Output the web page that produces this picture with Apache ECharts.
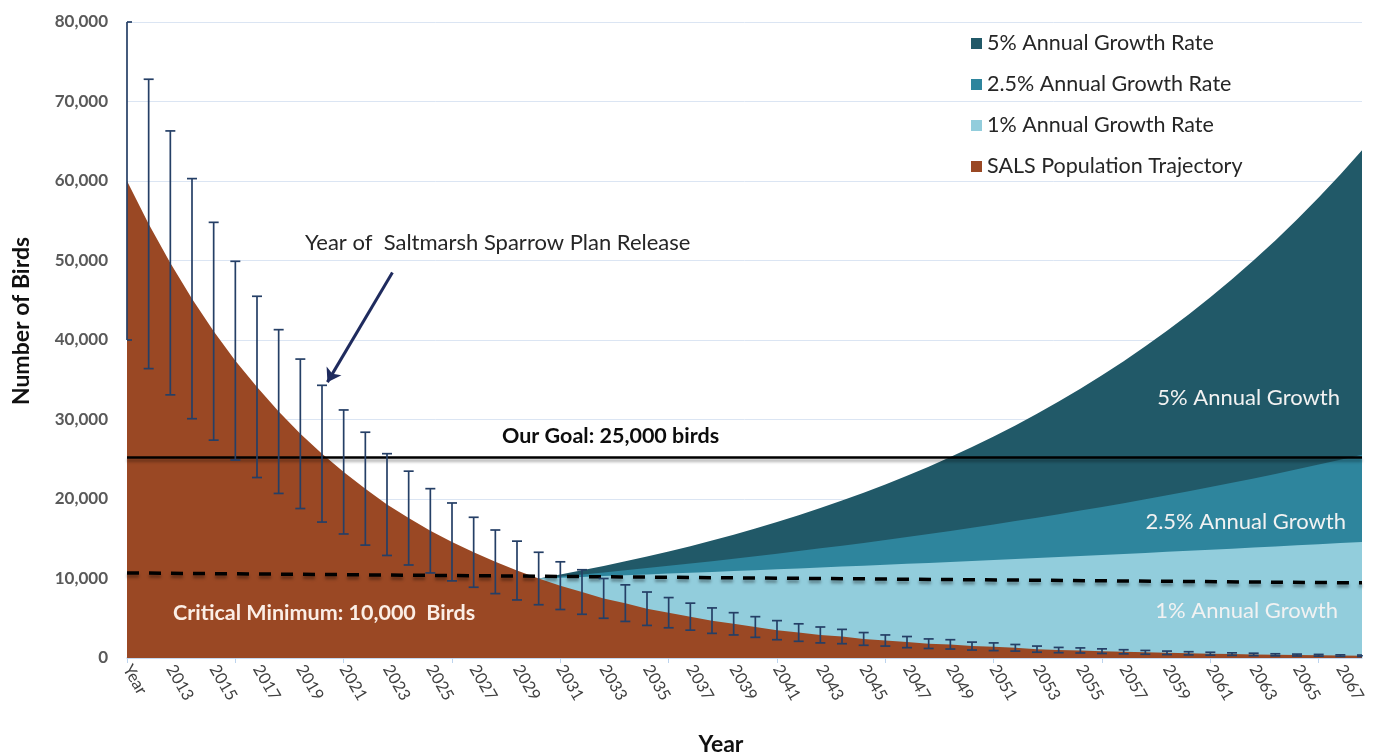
<!DOCTYPE html>
<html><head><meta charset="utf-8">
<script src="https://cdn.jsdelivr.net/npm/echarts@6/dist/echarts.min.js"></script>
<style>html,body{margin:0;padding:0;background:#fff}#c{width:1374px;height:754px}</style>
</head><body><div id="c"></div>
<script>
// ---- data ----
const years = ['Year','2012','2013','2014','2015','2016','2017','2018','2019','2020','2021','2022','2023','2024','2025','2026','2027','2028','2029','2030','2031','2032','2033','2034','2035','2036','2037','2038','2039','2040','2041','2042','2043','2044','2045','2046','2047','2048','2049','2050','2051','2052','2053','2054','2055','2056','2057','2058','2059','2060','2061','2062','2063','2064','2065','2066','2067','2068'];
const salsTrajectory = [60000,54600,49700,45200,41100,37400,34100,31000,28200,25700,23400,21300,19300,17600,16000,14600,13300,12100,11000,10000,9100,8300,7500,6900,6200,5700,5200,4700,4300,3900,3500,3200,2900,2700,2400,2200,2000,1800,1700,1500,1400,1300,1100,1000,950,860,780,710,650,590,540,490,450,400,370,340,300,280];
const errUpper = [80000,72800,66300,60300,54800,49900,45500,41300,37600,34300,31200,28400,25700,23500,21300,19500,17700,16100,14700,13300,12100,11100,10000,9200,8300,7600,6900,6300,5700,5200,4700,4300,3900,3600,3200,2900,2700,2400,2300,2000,1900,1700,1500,1330,1270,1150,1040,950,870,790,720,650,600,530,490,450,400,370];
const errLower = [40000,36400,33100,30100,27400,24900,22700,20700,18800,17100,15600,14200,12900,11700,10700,9700,8900,8100,7300,6700,6100,5500,5000,4600,4100,3800,3500,3100,2900,2600,2300,2100,1900,1800,1600,1500,1300,1200,1130,1000,930,870,730,670,630,570,520,470,430,390,360,330,300,270,250,230,200,190];
const nulls19 = [null,null,null,null,null,null,null,null,null,null,null,null,null,null,null,null,null,null,null];
const growth1 = nulls19.concat([10000,10100,10200,10300,10410,10510,10620,10720,10830,10940,11050,11160,11270,11380,11500,11610,11730,11840,11960,12080,12200,12320,12450,12570,12700,12820,12950,13080,13210,13350,13480,13610,13750,13890,14030,14170,14310,14450,14600]);
const growth25 = nulls19.concat([10000,10250,10510,10770,11040,11310,11600,11890,12180,12490,12800,13120,13450,13790,14130,14480,14850,15220,15600,15990,16390,16800,17220,17650,18090,18540,19000,19480,19970,20460,20980,21500,22040,22590,23150,23730,24330,24930,25560]);
const growth5 = nulls19.concat([10000,10500,11030,11580,12160,12760,13400,14070,14780,15510,16290,17100,17960,18860,19800,20790,21830,22920,24070,25270,26530,27860,29250,30720,32250,33860,35560,37340,39200,41160,43220,45380,47650,50030,52530,55160,57920,60810,63860]);
const seriesNames = ['5% Annual Growth Rate','2.5% Annual Growth Rate','1% Annual Growth Rate','SALS Population Trajectory'];
const goalValue = 25300;
const criticalLine = [[0, 10700], [57, 9450]];
const arrowLine = [[12.25, 48500], [9.25, 34700]];

const FONT = 'Lato, "Open Sans", sans-serif';
const chart = echarts.init(document.getElementById('c'), null, {renderer: 'canvas'});

function area(name, data, color, z) {
  return {
    type: 'line', name, data, z,
    showSymbol: false, symbol: 'none', silent: true,
    lineStyle: {width: 0, color},
    itemStyle: {color},
    areaStyle: {color, opacity: 1}
  };
}

const shadow = {shadowBlur: 3, shadowOffsetY: 3, shadowColor: 'rgba(0,0,0,0.35)'};

chart.setOption({
  animation: false,
  backgroundColor: '#fff',
  textStyle: {fontFamily: FONT},
  grid: {left: 127, right: 12, top: 22, bottom: 96, containLabel: false, outerBoundsMode: 'none'},
  legend: {
    orient: 'vertical', left: 966, top: 26,
    data: seriesNames,
    icon: 'rect', itemWidth: 11, itemHeight: 11, itemGap: 16,
    textStyle: {fontSize: 21.5, color: '#262626', fontFamily: FONT, lineHeight: 25},
    selectedMode: false
  },
  xAxis: [{
    type: 'category', data: years, boundaryGap: false,
    axisLine: {show: true, lineStyle: {color: '#bdd4ee', width: 1.5}},
    axisTick: {show: true, interval: 4, length: 5, lineStyle: {color: '#bdd4ee'}},
    axisLabel: {interval: 1, rotate: -60, fontSize: 16.5, color: '#404040', margin: 8, fontFamily: FONT},
    splitLine: {show: false},
    name: 'Year', nameLocation: 'middle', nameGap: 75,
    nameTextStyle: {fontSize: 23, fontWeight: 'bold', color: '#111', fontFamily: FONT, padding: [0, 47, 0, 0]}
  }, {
    type: 'value', min: 0, max: 57, show: false
  }],
  yAxis: {
    type: 'value', min: 0, max: 80000, interval: 10000,
    axisLine: {show: false}, axisTick: {show: false},
    axisLabel: {fontSize: 17, fontWeight: 'bold', color: '#595959', margin: 19, fontFamily: FONT,
      formatter: v => v.toLocaleString('en-US')},
    splitLine: {lineStyle: {color: '#dbe5f3', width: 1}},
    name: 'Number of Birds', nameLocation: 'middle', nameGap: 94,
    nameTextStyle: {fontSize: 23, fontWeight: 'bold', color: '#111', fontFamily: FONT, padding: [0, 0, 0, 38]}
  },
  series: [
    area(seriesNames[0], growth5, '#215968', 1),
    area(seriesNames[1], growth25, '#2e859d', 2),
    area(seriesNames[2], growth1, '#92cddc', 3),
    area(seriesNames[3], salsTrajectory, '#9a4824', 4),
    {
      type: 'custom', name: 'error', z: 6, clip: false, silent: true,
      data: years.map((y, i) => [i, errLower[i], errUpper[i]]),
      encode: {x: 0, y: [1, 2]},
      renderItem(params, api) {
        const cs = params.coordSys;
        const x = api.value(0);
        const lo = api.coord([x, api.value(1)]);
        const hi = api.coord([x, api.value(2)]);
        const w = 5;
        const xl = Math.max(lo[0] - w, cs.x);
        const xr = Math.min(lo[0] + w, cs.x + cs.width);
        const style = {stroke: '#253f66', lineWidth: 1.7, fill: null};
        return {type: 'group', children: [
          {type: 'line', shape: {x1: lo[0], y1: hi[1], x2: lo[0], y2: lo[1]}, style},
          {type: 'line', shape: {x1: xl, y1: hi[1], x2: xr, y2: hi[1]}, style},
          {type: 'line', shape: {x1: xl, y1: lo[1], x2: xr, y2: lo[1]}, style}
        ]};
      }
    },
    {
      type: 'line', name: 'goal', data: [], z: 7, silent: true,
      markLine: {
        silent: true, symbol: 'none', label: {show: false}, animation: false,
        lineStyle: Object.assign({color: '#000', width: 2.5, type: 'solid'}, shadow),
        data: [{yAxis: goalValue}]
      }
    },
    {
      type: 'line', name: 'annot', xAxisIndex: 1, data: [], z: 8, silent: true,
      markLine: {
        silent: true, label: {show: false}, animation: false,
        data: [
          [{coord: criticalLine[0], symbol: 'none',
            lineStyle: Object.assign({color: '#000', width: 3.5, type: [12, 10]}, shadow)},
           {coord: criticalLine[1], symbol: 'none'}],
          [{coord: arrowLine[0], symbol: 'none',
            lineStyle: {color: '#1f2b5e', width: 3, type: 'solid'}},
           {coord: arrowLine[1], symbol: 'arrow', symbolSize: 13}]
        ]
      }
    }
  ],
  graphic: [
    {type: 'text', x: 305, y: 243, z: 20, style: {text: 'Year of  Saltmarsh Sparrow Plan Release', fill: '#262626', font: '22px ' + FONT, align: 'left', verticalAlign: 'middle'}},
    {type: 'text', x: 502, y: 436, z: 20, style: {text: 'Our Goal: 25,000 birds', fill: '#0d0d0d', font: 'bold 21.5px ' + FONT, align: 'left', verticalAlign: 'middle'}},
    {type: 'text', x: 173, y: 613, z: 20, style: {text: 'Critical Minimum: 10,000  Birds', fill: '#fbeee6', font: 'bold 21.5px ' + FONT, align: 'left', verticalAlign: 'middle'}},
    {type: 'text', x: 1340, y: 398, z: 20, style: {text: '5% Annual Growth', fill: '#f2f2f2', font: '22px ' + FONT, align: 'right', verticalAlign: 'middle'}},
    {type: 'text', x: 1346, y: 522, z: 20, style: {text: '2.5% Annual Growth', fill: '#f2f2f2', font: '22px ' + FONT, align: 'right', verticalAlign: 'middle'}},
    {type: 'text', x: 1338, y: 611, z: 20, style: {text: '1% Annual Growth', fill: '#f2f2f2', font: '22px ' + FONT, align: 'right', verticalAlign: 'middle'}}
  ]
});
</script>
</body></html>
